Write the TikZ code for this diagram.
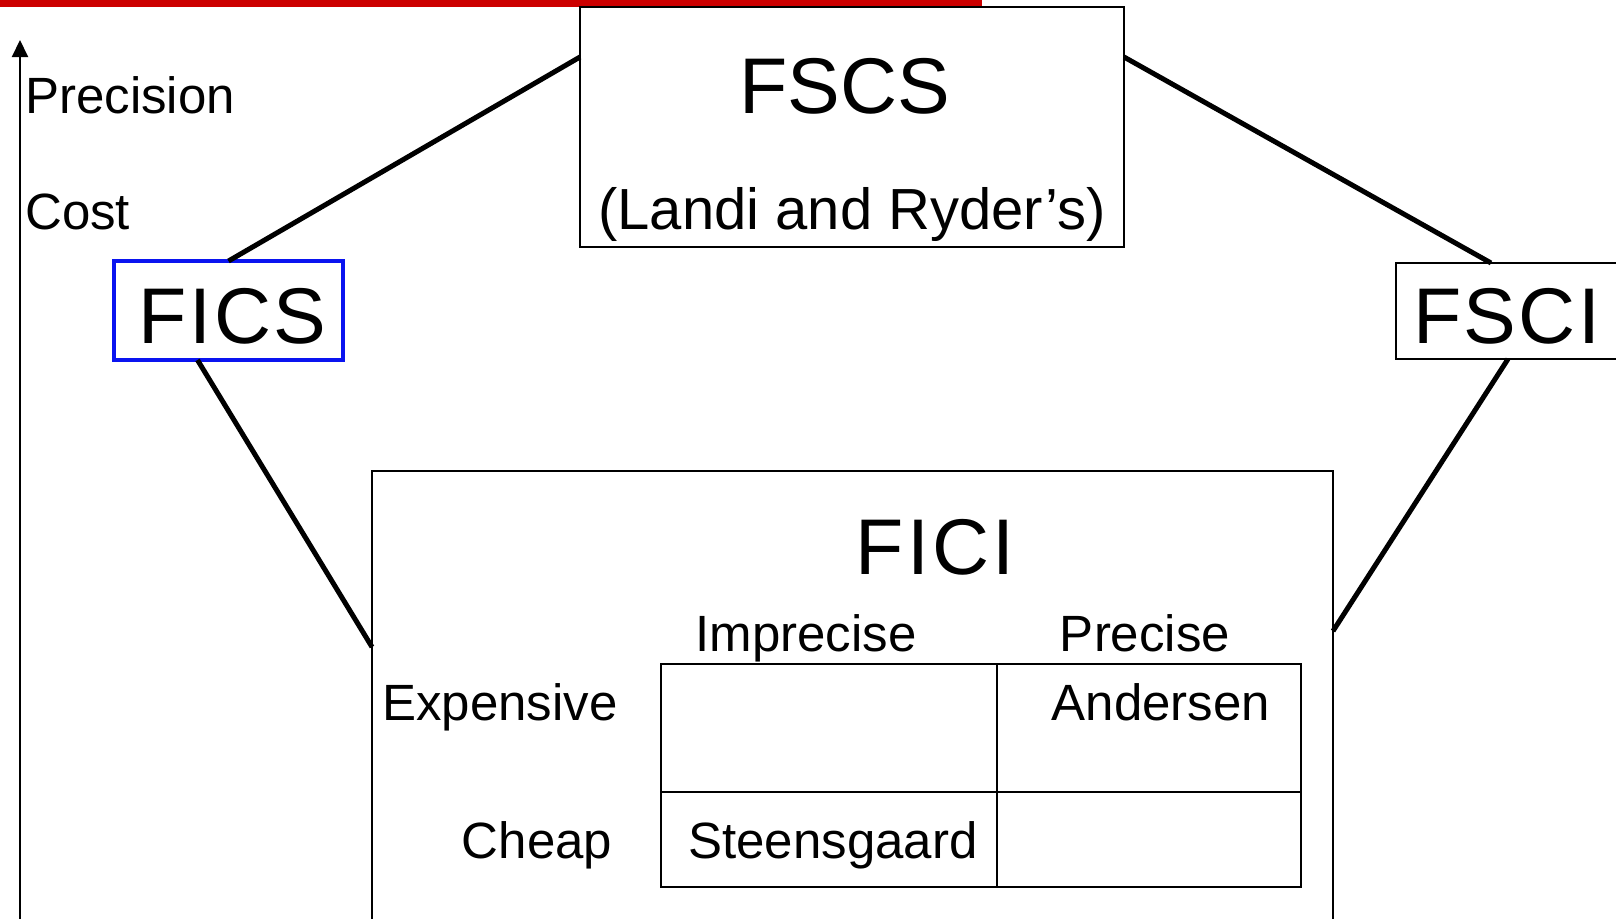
\documentclass[tikz,border=0pt]{standalone}
\usepackage{fontspec}
\setmainfont{Liberation Sans}
\usetikzlibrary{calc,arrows.meta}
\definecolor{barred}{RGB}{204,0,0}
\definecolor{boxblue}{RGB}{10,20,240}
\tikzset{
  box/.style={draw=black, line width=1.5pt, inner sep=0pt, outer sep=0pt, anchor=north west},
  conn/.style={line width=5pt},
  txt/.style={inner sep=0pt, anchor=base, font=\fontsize{51}{60}\selectfont},
  big/.style={inner sep=0pt, anchor=base, font=\fontsize{79}{90}\selectfont},
  mid/.style={inner sep=0pt, anchor=base, font=\fontsize{58}{66}\selectfont},
}
\begin{document}
\begin{tikzpicture}[x=1pt,y=-1pt]
\useasboundingbox (0,0) rectangle (1616,918);
\clip (0,0) rectangle (1616,918);
\fill[barred] (0,0) rectangle (982,7);
% axis
\coordinate (axb) at (20,930);
\coordinate (axt) at (20,40);
\draw[line width=2pt, -{Triangle[length=17pt,width=16pt]}] (axb) -- (axt);
\node[txt, anchor=base west] (prec) at (25,113) {Precision};
\node[txt, anchor=base west] (cost) at (25,229) {Cost};
% boxes
\node[box, minimum width=544pt, minimum height=240pt] (fscs) at (580,7) {};
\node[box, draw=boxblue, line width=4pt, minimum width=229pt, minimum height=99pt] (fics) at (114,261) {};
\node[box, minimum width=240pt, minimum height=96pt] (fsci) at (1396,263) {};
\node[box, minimum width=961pt, minimum height=480pt] (fici) at (372,471) {};
% table
\node[box, minimum width=336pt, minimum height=128pt] (c11) at (661,664) {};
\node[box, minimum width=304pt, minimum height=128pt] (c12) at (997,664) {};
\node[box, minimum width=336pt, minimum height=95pt] (c21) at (661,792) {};
\node[box, minimum width=304pt, minimum height=95pt] (c22) at (997,792) {};
% connectors
\draw[conn] ([yshift=-50pt]fscs.north west) -- (fics.north);
\draw[conn] ([yshift=-50pt]fscs.north east) -- ([xshift=-25pt]fsci.north);
\draw[conn] ([xshift=-31pt]fics.south) -- ([yshift=-176pt]fici.north west);
\draw[conn] ([xshift=-8pt]fsci.south) -- ([yshift=-160pt]fici.north east);
% texts
\node[big] (tfscs) at (845,113) {FSCS};
\node[mid] (tlandi) at (852,229) {(Landi and Ryder’s)};
\node[big] (tfics) at (232,343) {F\kern3pt I\kern3pt C\kern2pt S};
\node[big] (tfsci) at (1507,343) {F\kern2pt S\kern2pt C\kern3pt I};
\node[big] (tfici) at (935,574) {F\kern3pt I\kern3pt C\kern3pt I};
\node[txt] (timp) at (806,651) {Imprecise};
\node[txt] (tpre) at (1145,651) {Precise};
\node[txt, anchor=base west] (texp) at (382,720) {Expensive};
\node[txt] (tand) at (1161,720) {Andersen};
\node[txt] (tche) at (537,858) {Cheap};
\node[txt] (tste) at (833,858) {Steensgaard};
\end{tikzpicture}
\end{document}
